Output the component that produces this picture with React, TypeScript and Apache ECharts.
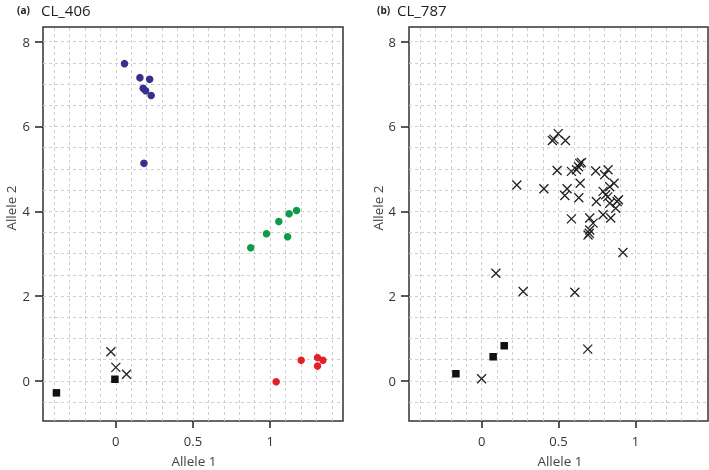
import React, { useEffect, useRef } from "react";
import * as echarts from "echarts";

const leftBlue = [[0.056, 7.48], [0.156, 7.15], [0.219, 7.11], [0.177, 6.9], [0.193, 6.84], [0.229, 6.73], [0.182, 5.13]];
const leftGreen = [[0.874, 3.14], [0.976, 3.47], [1.056, 3.76], [1.113, 3.4], [1.123, 3.94], [1.171, 4.02]];
const leftRed = [[1.039, -0.02], [1.201, 0.49], [1.307, 0.55], [1.342, 0.49], [1.307, 0.35]];
const leftCross = [[-0.032, 0.69], [0.0, 0.32], [0.069, 0.16]];
const leftSquare = [[-0.006, 0.04], [-0.385, -0.28]];

const rightSquare = [[-0.167, 0.17], [0.075, 0.57], [0.147, 0.83]];
const rightCross = [
  [0.0, 0.05], [0.69, 0.75], [0.093, 2.54], [0.27, 2.11], [0.606, 2.09], [0.919, 3.03],
  [0.229, 4.62], [0.405, 4.53], [0.46, 5.67], [0.47, 5.7], [0.498, 5.83], [0.545, 5.67],
  [0.491, 4.96], [0.584, 4.94], [0.617, 4.98], [0.638, 5.13], [0.649, 5.15], [0.63, 5.05],
  [0.641, 4.66], [0.556, 4.53], [0.541, 4.37], [0.632, 4.32], [0.742, 4.95], [0.822, 4.98],
  [0.8, 4.86], [0.861, 4.66], [0.833, 4.58], [0.79, 4.47], [0.807, 4.39], [0.82, 4.34],
  [0.746, 4.23], [0.833, 4.19], [0.881, 4.23], [0.89, 4.27], [0.872, 4.07], [0.584, 3.82],
  [0.703, 3.84], [0.79, 3.92], [0.84, 3.84], [0.725, 3.72], [0.703, 3.56], [0.692, 3.44], [0.7, 3.48],
];

const xTicks = [0, 0.5, 1];
const yTicks = [0, 2, 4, 6, 8];
const gridX = [-0.4, -0.3, -0.2, -0.1, 0, 0.1, 0.2, 0.3, 0.4, 0.5, 0.6, 0.7, 0.8, 0.9, 1.0, 1.1, 1.2, 1.3, 1.4];
const gridY = [-0.5, 0, 0.5, 1, 1.5, 2, 2.5, 3, 3.5, 4, 4.5, 5, 5.5, 6, 6.5, 7, 7.5, 8];

const X_MIN = -0.472, X_MAX = 1.472, Y_MIN = -0.944, Y_MAX = 8.344;
const FONT = "Open Sans";
const CROSS = "path://M0,0L10,10M10,0L0,10";

export default function App() {
  const ref = useRef<HTMLDivElement>(null);
  useEffect(() => {
    const chart = echarts.init(ref.current!, null, { renderer: "svg" });
    const mkX = (gi: number) => ({
      type: "value", gridIndex: gi, min: X_MIN, max: X_MAX, position: "bottom",
      axisLine: { show: false, onZero: false },
      splitLine: { show: false },
      axisTick: { show: true, inside: false, length: 7, customValues: xTicks, lineStyle: { color: "#222", width: 1.5 } },
      axisLabel: { customValues: xTicks, margin: 13, fontSize: 13, color: "#333", fontFamily: FONT },
    });
    const mkY = (gi: number) => ({
      type: "value", gridIndex: gi, min: Y_MIN, max: Y_MAX, position: "left",
      axisLine: { show: false, onZero: false },
      splitLine: { show: false },
      axisTick: { show: true, inside: false, length: 8, customValues: yTicks, lineStyle: { color: "#222", width: 1.5 } },
      axisLabel: { customValues: yTicks, margin: 13, fontSize: 13, color: "#333", fontFamily: FONT },
    });
    const gridSeries = (gi: number) => ({
      type: "scatter", xAxisIndex: gi, yAxisIndex: gi, data: [], z: 1, silent: true,
      markLine: {
        z: 1, silent: true, symbol: ["none", "none"], label: { show: false },
        lineStyle: { color: "#cfcfcf", type: [3, 3], width: 1 },
        emphasis: { disabled: true },
        data: [...gridX.map((v) => ({ xAxis: v })), ...gridY.map((v) => ({ yAxis: v }))],
      },
    });
    const dots = (gi: number, data: number[][], color: string) => ({
      type: "scatter", xAxisIndex: gi, yAxisIndex: gi, data, symbol: "circle", symbolSize: 7.5,
      itemStyle: { color, opacity: 1 }, z: 3,
    });
    const squares = (gi: number, data: number[][]) => ({
      type: "scatter", xAxisIndex: gi, yAxisIndex: gi, data, symbol: "rect", symbolSize: 7.5,
      itemStyle: { color: "#111", opacity: 1 }, z: 3,
    });
    const crosses = (gi: number, data: number[][]) => ({
      type: "scatter", xAxisIndex: gi, yAxisIndex: gi, data, symbol: CROSS, symbolSize: 9,
      itemStyle: { color: "transparent", borderColor: "#222", borderWidth: 1.3, opacity: 1 }, z: 3,
    });
    const txt = (x: number, y: number, text: string, size: number, extra: any = {}) => ({
      type: "text", x, y,
      style: { text, fontSize: size, fontFamily: FONT, fill: "#222", textVerticalAlign: "middle", ...extra },
    });
    chart.setOption({
      animation: false,
      grid: [
        { left: 43, top: 27, width: 300, height: 394, show: true, borderColor: "#333", borderWidth: 1.5, backgroundColor: "transparent" },
        { left: 409, top: 27, width: 299, height: 394, show: true, borderColor: "#333", borderWidth: 1.5, backgroundColor: "transparent" },
      ],
      xAxis: [mkX(0), mkX(1)],
      yAxis: [mkY(0), mkY(1)],
      series: [
        gridSeries(0), gridSeries(1),
        dots(0, leftBlue, "#372f8c"),
        dots(0, leftGreen, "#0f9a49"),
        dots(0, leftRed, "#e2202a"),
        crosses(0, leftCross),
        squares(0, leftSquare),
        squares(1, rightSquare),
        crosses(1, rightCross),
      ],
      graphic: [
        txt(17, 10, "(a)", 10, { fontWeight: "bold" }),
        txt(41, 10, "CL_406", 15),
        txt(377, 10, "(b)", 10, { fontWeight: "bold" }),
        txt(397, 10, "CL_787", 15),
        txt(194, 461, "Allele 1", 13.5, { textAlign: "center", fill: "#444" }),
        txt(560, 461, "Allele 1", 13.5, { textAlign: "center", fill: "#444" }),
        { ...txt(11, 208, "Allele 2", 13.5, { textAlign: "center", fill: "#444" }), rotation: Math.PI / 2 },
        { ...txt(378, 208, "Allele 2", 13.5, { textAlign: "center", fill: "#444" }), rotation: Math.PI / 2 },
      ],
    });
    return () => chart.dispose();
  }, []);
  return <div ref={ref} style={{ position: "fixed", left: 0, top: 0, width: 709, height: 470 }} />;
}
